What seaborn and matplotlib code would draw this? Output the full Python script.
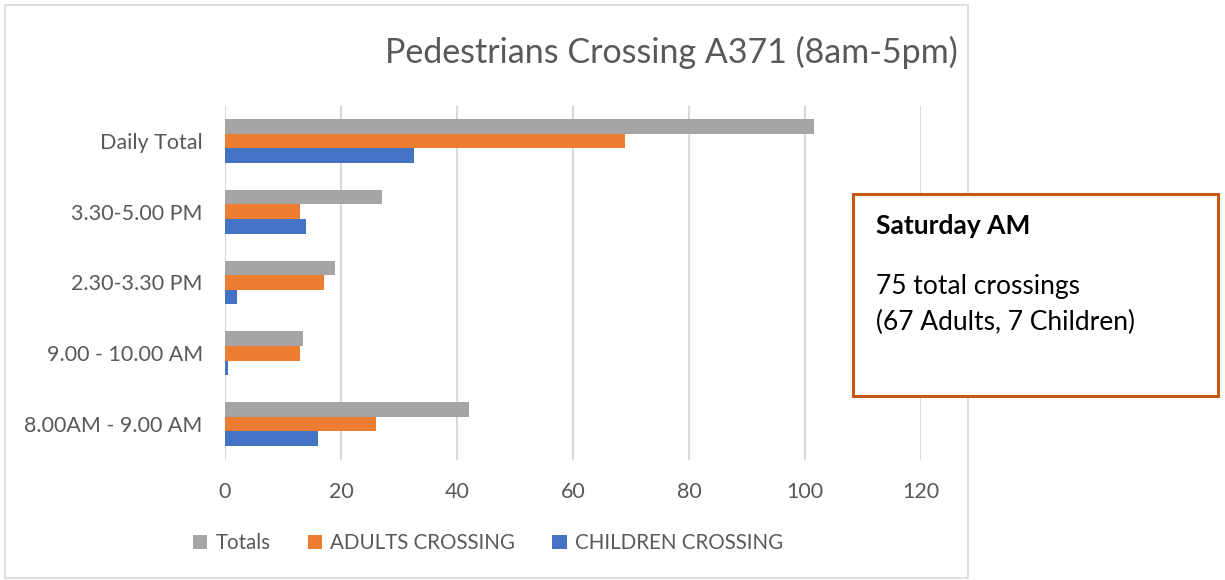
import matplotlib
matplotlib.use("Agg")
import matplotlib.pyplot as plt
import seaborn as sns
import pandas as pd
from matplotlib.patches import Rectangle, Patch

categories = ["Daily Total", "3.30-5.00 PM", "2.30-3.30 PM", "9.00 - 10.00 AM", "8.00AM - 9.00 AM"]
totals = [101.5, 27, 19, 13.5, 42]
adults = [69, 13, 17, 13, 26]
children = [32.5, 14, 2, 0.5, 16]
series_names = ["Totals", "ADULTS CROSSING", "CHILDREN CROSSING"]
colors = ["#A5A5A5", "#ED7D31", "#4472C4"]
x_ticks = [0, 20, 40, 60, 80, 100, 120]

rows = []
for name, vals in zip(series_names, [totals, adults, children]):
    for c, v in zip(categories, vals):
        rows.append({"cat": c, "series": name, "value": v})
df = pd.DataFrame(rows)

sns.set_theme(style="white")
plt.rcParams["font.family"] = ["Lato", "DejaVu Sans"]
txt = "#595959"

fig = plt.figure(figsize=(12.25, 5.8), dpi=100)
ax = fig.add_axes([225 / 1225, 1 - 459.5 / 580, 696 / 1225, 354 / 580])

sns.barplot(data=df, y="cat", x="value", hue="series", order=categories,
            hue_order=series_names, palette=colors, orient="h", width=0.62,
            gap=0, saturation=1, ax=ax, legend=False, edgecolor="none")

ax.set_xlim(0, 120)
ax.set_xticks(x_ticks)
ax.set_xticklabels([str(t) for t in x_ticks], fontsize=15.5, color=txt)
ax.tick_params(axis="x", length=0, pad=16)
ax.tick_params(axis="y", length=0, pad=16, labelsize=15.5, labelcolor=txt)
ax.set_xlabel("")
ax.set_ylabel("")
ax.grid(axis="x", color="#D9D9D9", linewidth=1.5)
ax.set_axisbelow(True)
for s in ax.spines.values():
    s.set_visible(False)

# Chart border
fig.patches.append(Rectangle((5 / 1225, 2 / 580), 963 / 1225, 573 / 580,
                             transform=fig.transFigure, fill=False,
                             edgecolor="#D9D9D9", linewidth=1.2))

fig.text(958 / 1225, 1 - 52 / 580, "Pedestrians Crossing A371 (8am-5pm)",
         ha="right", va="center", fontsize=24.5, color=txt)

handles = [Patch(facecolor=c, edgecolor="none") for c in colors]
fig.legend(handles, series_names, loc="center", bbox_to_anchor=(488 / 1225, 1 - 543 / 580),
           ncol=3, frameon=False, fontsize=14.8, labelcolor=txt, handlelength=0.7,
           handleheight=0.7, handletextpad=0.4, columnspacing=1.8)

# Text box
fig.patches.append(Rectangle((853 / 1225, 1 - 396 / 580), 365 / 1225, 202 / 580,
                             transform=fig.transFigure, facecolor="white",
                             edgecolor="#C55A11", linewidth=2.2, zorder=5))
fig.text(876 / 1225, 1 - 226 / 580, "Saturday AM", ha="left", va="center",
         fontsize=19, fontweight="bold", color="black", zorder=6)
fig.text(876 / 1225, 1 - 287 / 580, "75 total crossings", ha="left", va="center",
         fontsize=19, color="black", zorder=6)
fig.text(876 / 1225, 1 - 322 / 580, "(67 Adults, 7 Children)", ha="left", va="center",
         fontsize=19, color="black", zorder=6)

fig.savefig("out.png", dpi=100, facecolor="white")
